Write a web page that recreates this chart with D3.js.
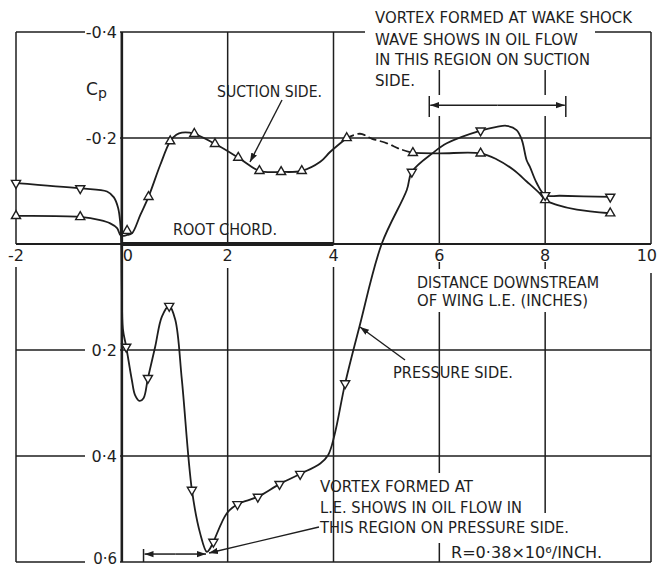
<!DOCTYPE html>
<html><head><meta charset="utf-8">
<script src="https://cdn.jsdelivr.net/npm/d3@7"></script>
<style>
html,body{margin:0;padding:0;background:#fff;}
svg{display:block;}
text{font-family:"DejaVu Sans",sans-serif;fill:#1e1e1e;}
</style></head>
<body>
<script>
// ---------- DATA ----------
const xTicks = [-2, 0, 2, 4, 6, 8, 10];
const xTickLabels = ["-2", "0", "2", "4", "6", "8", "10"];
const yTicks = [-0.4, -0.2, 0.2, 0.4, 0.6];
const yTickLabels = ["-0·4", "-0·2", "0·2", "0·4", "0·6"];

// Pressure side curve (drawn line) [x inches, Cp]
const pressureCurve = [
  [-2.0,-0.115],[-0.786,-0.105],[-0.28,-0.099],[-0.15,-0.088],[-0.07,-0.068],[-0.03,-0.04],
  [-0.01,0.0],[0.0,0.08],[0.02,0.16],[0.083,0.194],[0.19,0.257],[0.25,0.285],[0.334,0.296],
  [0.41,0.291],[0.493,0.253],[0.63,0.194],[0.757,0.137],[0.895,0.117],[1.01,0.143],
  [1.135,0.257],[1.324,0.464],[1.48,0.546],[1.607,0.581],[1.67,0.574],[1.73,0.562],
  [1.985,0.508],[2.185,0.491],[2.57,0.477],[2.98,0.453],[3.37,0.434],[3.75,0.414],
  [3.9,0.398],[4.02,0.36],[4.22,0.263],[4.49,0.156],[4.91,0.0],[5.385,-0.102],[5.48,-0.136],
  [5.88,-0.172],[6.14,-0.19],[6.78,-0.214],[7.085,-0.221],[7.27,-0.223],[7.46,-0.215],
  [7.56,-0.196],[7.65,-0.158],[7.71,-0.146],[7.84,-0.115],[8.0,-0.092],[8.28,-0.091],[9.23,-0.089]
];
const pressureMarkers = [
  [-2.0,-0.115],[-0.786,-0.105],[0.083,0.194],[0.493,0.253],[0.895,0.117],[1.324,0.464],
  [1.73,0.562],[2.185,0.491],[2.57,0.477],[2.98,0.453],[3.37,0.434],[4.22,0.263],
  [5.48,-0.136],[6.78,-0.214],[8.0,-0.092],[9.23,-0.089]
];

// Suction side curve: solid, dashed, solid
const suctionCurveA = [
  [-2.0,-0.053],[-0.786,-0.051],[-0.41,-0.045],[-0.22,-0.039],[-0.09,-0.03],[-0.02,-0.016],
  [0.1,-0.017],[0.19,-0.02],[0.35,-0.055],[0.504,-0.089],[0.725,-0.149],[0.914,-0.194],
  [1.03,-0.206],[1.135,-0.21],[1.37,-0.208],[1.76,-0.189],[2.2,-0.163],[2.6,-0.138],
  [3.01,-0.136],[3.40,-0.138],[3.75,-0.155],[3.94,-0.174],[4.25,-0.2]
];
const suctionCurveDashed = [
  [4.25,-0.2],[4.5,-0.208],[4.72,-0.199],[5.01,-0.19],[5.26,-0.179],[5.5,-0.172]
];
const suctionCurveB = [
  [5.5,-0.172],[6.0,-0.171],[6.78,-0.171],[7.08,-0.16],[7.4,-0.14],[7.65,-0.118],
  [7.9,-0.095],[8.0,-0.083],[8.22,-0.074],[8.6,-0.065],[9.23,-0.058]
];
const suctionMarkers = [
  [-2.0,-0.053],[-0.786,-0.051],[0.1,-0.025],[0.504,-0.089],[0.914,-0.194],[1.37,-0.208],
  [1.76,-0.189],[2.2,-0.163],[2.6,-0.138],[3.01,-0.136],[3.40,-0.138],[4.25,-0.2],
  [5.5,-0.172],[6.78,-0.171],[8.0,-0.083],[9.23,-0.058]
];

const rootChord = [0, 4];
const wakeVortexRange = [5.81, 8.39];   // suction side oil-flow region
const wakeVortexLevel = -0.262;
const leVortexRange = [0.41, 1.61];     // pressure side oil-flow region
const leVortexLevel = 0.585;

// ---------- LAYOUT ----------
const W = 659, H = 569;
const x = d3.scaleLinear([-2, 10], [16, 651]);
const y = d3.scaleLinear([-0.4, 0.6], [32, 562]);
const ink = "#1e1e1e";

const svg = d3.select("body").append("svg").attr("width", W).attr("height", H);
svg.append("rect").attr("width", W).attr("height", H).attr("fill", "#fff");

const defs = svg.append("defs");
defs.append("marker").attr("id","arr").attr("viewBox","0 0 10 10").attr("refX",10).attr("refY",5)
  .attr("markerWidth",9).attr("markerHeight",9).attr("markerUnits","userSpaceOnUse").attr("orient","auto")
  .append("path").attr("d","M0,1.5 L10,5 L0,8.5 Z").attr("fill",ink);

// grid segments (pixel gaps around lettering)
const vSegs = {
  "-2": [[32,244],[267,562]],
  "0": [[32,562]],
  "2": [[32,244],[268,562]],
  "4": [[32,244],[267,562]],
  "6": [[70,95],[116,244],[262,269],[312,473],[543,562]],
  "8": [[70,95],[116,244],[262,269],[312,513]],
  "10": [[32,244],[273,562]]
};
const hSegs = {
  "-0.4": [[16,85],[120,365],[595,651]],
  "-0.2": [[120,651]],
  "0": [[16,651]],
  "0.2": [[16,85],[120,651]],
  "0.4": [[16,85],[120,651]],
  "0.6": [[16,85],[120,651]]
};
const g = svg.append("g").attr("stroke", ink).attr("fill","none");
Object.entries(vSegs).forEach(([v, segs]) => {
  segs.forEach(s => g.append("line").attr("x1", x(+v)).attr("x2", x(+v)).attr("y1", s[0]).attr("y2", s[1])
    .attr("stroke-width", +v === 0 ? 2.6 : 1.5));
});
Object.entries(hSegs).forEach(([v, segs]) => {
  segs.forEach(s => g.append("line").attr("x1", s[0]).attr("x2", s[1]).attr("y1", y(+v)).attr("y2", y(+v))
    .attr("stroke-width", +v === 0 ? 2 : 1.5));
});
g.append("line").attr("x1", x(rootChord[0])).attr("x2", x(rootChord[1])).attr("y1", y(0)).attr("y2", y(0))
  .attr("stroke-width", 4);

// tick labels
svg.append("g").selectAll("text").data(yTicks).join("text")
  .attr("x", 117).attr("y", (d) => d === 0.6 ? 564 : y(d) + 6)
  .attr("text-anchor","end").attr("font-size", d => d === 0.6 ? 15 : 16).text((d,i) => yTickLabels[i]);
svg.append("g").selectAll("text").data(xTicks).join("text")
  .attr("x", d => d === 0 ? x(d) + 6 : (d === 10 ? 657 : x(d))).attr("y", 261)
  .attr("text-anchor", d => d === 10 ? "end" : "middle").attr("font-size",16).text((d,i) => xTickLabels[i]);

// curves
const line = d3.line().x(d => x(d[0])).y(d => y(d[1])).curve(d3.curveCatmullRom.alpha(0.5));
const cg = svg.append("g").attr("fill","none").attr("stroke",ink).attr("stroke-width",1.8)
  .attr("stroke-linejoin","round").attr("stroke-linecap","round");
cg.append("path").attr("d", line(pressureCurve));
cg.append("path").attr("d", line(suctionCurveA));
cg.append("path").attr("d", line(suctionCurveB));
cg.append("path").attr("d", line(suctionCurveDashed)).attr("stroke-dasharray","7,5");

// markers
const tri = d3.symbol().type(d3.symbolTriangle).size(36);
svg.append("g").selectAll("path").data(suctionMarkers).join("path")
  .attr("d", tri).attr("transform", d => `translate(${x(d[0])},${y(d[1])})`)
  .attr("fill","#fff").attr("stroke",ink).attr("stroke-width",1.4);
svg.append("g").selectAll("path").data(pressureMarkers).join("path")
  .attr("d", tri).attr("transform", d => `translate(${x(d[0])},${y(d[1])}) rotate(180)`)
  .attr("fill","#fff").attr("stroke",ink).attr("stroke-width",1.4);

// range arrows
function rangeArrow(r, lvl, tickTop, tickBot, ticks) {
  const yy = y(lvl);
  const a = svg.append("g").attr("stroke", ink).attr("stroke-width", 1.5);
  const xm = (x(r[0]) + x(r[1])) / 2;
  a.append("line").attr("x1", xm).attr("x2", x(r[0]) + 1).attr("y1", yy).attr("y2", yy).attr("marker-end","url(#arr)");
  a.append("line").attr("x1", xm).attr("x2", x(r[1]) - 1).attr("y1", yy).attr("y2", yy).attr("marker-end","url(#arr)");
  ticks.forEach(v => a.append("line").attr("x1", x(v)).attr("x2", x(v)).attr("y1", tickTop).attr("y2", tickBot));
}
rangeArrow(wakeVortexRange, wakeVortexLevel, 96, 117, wakeVortexRange);
rangeArrow(leVortexRange, leVortexLevel, 549, 562, [leVortexRange[0]]);

// leader arrows
const leaders = [
  [[282,100],[250,162]],
  [[405,360],[360,327]],
  [[319,527],[209,553]]
];
leaders.forEach(l => svg.append("line").attr("x1", l[0][0]).attr("y1", l[0][1]).attr("x2", l[1][0]).attr("y2", l[1][1])
  .attr("stroke", ink).attr("stroke-width", 1.4).attr("marker-end","url(#arr)"));

// annotation text
const notes = [
  ["VORTEX FORMED AT WAKE SHOCK", 375, 23, 257],
  ["WAVE SHOWS IN OIL FLOW", 375, 45, 203],
  ["IN THIS REGION ON SUCTION", 375, 65, 215],
  ["SIDE.", 375, 86, 40],
  ["SUCTION SIDE.", 217, 97, 105],
  ["ROOT CHORD.", 173, 235, 104],
  ["DISTANCE DOWNSTREAM", 417, 288, 182],
  ["OF WING L.E. (INCHES)", 417, 306, 171],
  ["PRESSURE SIDE.", 393, 378, 120],
  ["VORTEX FORMED AT", 320, 492, 153],
  ["L.E. SHOWS IN OIL FLOW IN", 320, 513, 202],
  ["THIS REGION ON PRESSURE SIDE.", 320, 533, 249],
  ["R=0·38×10⁶/INCH.", 451, 558, 151]
];
svg.append("g").selectAll("text").data(notes).join("text")
  .attr("x", d => d[1]).attr("y", d => d[2]).attr("font-size", 15)
  .attr("textLength", d => d[3]).attr("lengthAdjust","spacingAndGlyphs").text(d => d[0]);

const cp = svg.append("text").attr("x", 86).attr("y", 95).attr("font-size", 17);
cp.append("tspan").text("C");
cp.append("tspan").attr("font-size", 14).attr("dy", 3).text("p");
</script>
</body></html>
